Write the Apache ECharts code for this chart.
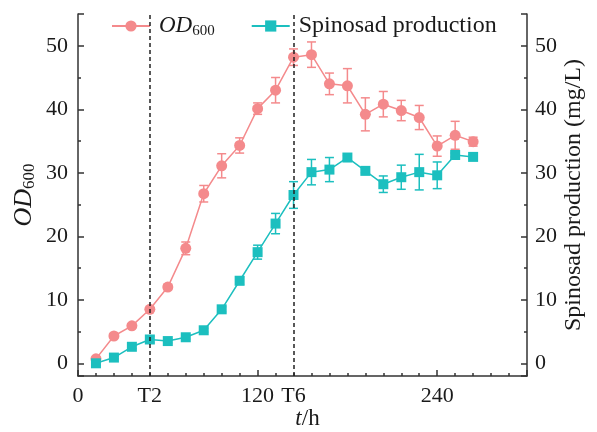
<!DOCTYPE html>
<html>
<head>
<meta charset="utf-8">
<title>OD600 and spinosad production</title>
<script src="https://cdn.jsdelivr.net/npm/echarts@6/dist/echarts.min.js"></script>
<style>
  html, body { margin: 0; padding: 0; background: #fff; }
  #chart { width: 597px; height: 432px; }
</style>
</head>
<body>
<div id="chart"></div>
<script>
// sampling times (h)
var hours = [12, 24, 36, 48, 60, 72, 84, 96, 108, 120, 132, 144, 156, 168, 180, 192, 204, 216, 228, 240, 252, 264];
// OD600 mean and error
var od600 = [0.7, 4.3, 5.9, 8.5, 12.0, 18.1, 26.7, 31.1, 34.3, 40.1, 43.0, 48.2, 48.6, 44.0, 43.7, 39.2, 40.8, 39.8, 38.7, 34.2, 35.9, 34.9];
var od600Err = [0.2, 0.3, 0.3, 0.3, 0.4, 1.0, 1.3, 1.9, 1.2, 0.9, 2.0, 1.3, 2.0, 1.7, 2.7, 2.6, 2.0, 1.6, 1.9, 1.6, 2.2, 0.7];
// spinosad production (mg/L) mean and error
var spinosad = [0.0, 0.9, 2.6, 3.75, 3.5, 4.1, 5.2, 8.5, 13.0, 17.5, 22.0, 26.5, 30.1, 30.5, 32.4, 30.3, 28.2, 29.3, 30.1, 29.6, 32.8, 32.5];
var spinosadErr = [0.3, 0.2, 0.3, 0.5, 0.3, 0.3, 0.3, 0.4, 0.6, 1.1, 1.6, 2.1, 2.0, 1.9, 0.3, 0.3, 1.3, 1.9, 2.8, 2.1, 0.3, 0.3];
// x tick labels
var xLabelValues = [0, 48, 120, 144, 240];
var xLabelText = { 0: '0', 48: 'T2', 120: '120', 144: 'T6', 240: '240' };
var markTimes = [48, 144];
var yLabelValues = [0, 10, 20, 30, 40, 50];

var RED = '#f48a8c';
var TEAL = '#1cbfbf';
var FONT = 'Liberation Serif';
var INK = '#1a1a1a';

var chart = echarts.init(document.getElementById('chart'));

function pairs(ys) {
  return hours.map(function (h, i) { return [h, ys[i]]; });
}
function errData(ys, es) {
  return hours.map(function (h, i) { return [h, ys[i] - es[i], ys[i] + es[i]]; });
}
function errRender(color) {
  return function (params, api) {
    var x = api.value(0);
    var lo = api.coord([x, api.value(1)]);
    var hi = api.coord([x, api.value(2)]);
    var w = 4.5;
    var st = { stroke: color, lineWidth: 1.5 };
    return {
      type: 'group',
      children: [
        { type: 'line', shape: { x1: lo[0], y1: lo[1], x2: hi[0], y2: hi[1] }, style: st },
        { type: 'line', shape: { x1: lo[0] - w, y1: lo[1], x2: lo[0] + w, y2: lo[1] }, style: st },
        { type: 'line', shape: { x1: hi[0] - w, y1: hi[1], x2: hi[0] + w, y2: hi[1] }, style: st }
      ]
    };
  };
}

var axisLine = { show: true, onZero: false, lineStyle: { color: '#333', width: 1.5 } };
var labelStyle = { color: INK, fontFamily: FONT, fontSize: 22 };

// major axis: auto nice interval of 10; minor axis: auto nice interval of 5
function yAxisCfg(pos, major) {
  return {
    type: 'value',
    position: pos,
    min: -2,
    max: 55,
    splitNumber: major ? 5 : 12,
    splitLine: { show: false },
    axisLine: major ? axisLine : { show: false, onZero: false },
    axisTick: {
      show: true, inside: true, length: major ? 6 : 3,
      lineStyle: { color: '#333', width: 1.5 }
    },
    axisLabel: major ? Object.assign({ customValues: yLabelValues, margin: pos === 'left' ? 10 : 8 }, labelStyle) : { show: false }
  };
}

var yLeft = yAxisCfg('left', true);
yLeft.name = '{i|OD}{s|600}';
yLeft.nameLocation = 'middle';
yLeft.nameGap = 40;
yLeft.nameRotate = 90;
yLeft.nameMoveOverlap = false;
yLeft.nameTextStyle = {
  fontFamily: FONT, color: INK,
  rich: {
    i: { fontFamily: FONT, fontStyle: 'italic', fontSize: 26, color: INK },
    s: { fontFamily: FONT, fontSize: 17, color: INK, verticalAlign: 'bottom', padding: [11, 0, 0, 0] }
  }
};
var yRight = yAxisCfg('right', true);
yRight.name = 'Spinosad production (mg/L)';
yRight.nameLocation = 'middle';
yRight.nameGap = 35;
yRight.nameRotate = 90;
yRight.nameMoveOverlap = false;
yRight.nameTextStyle = { fontFamily: FONT, fontSize: 24, color: INK };

chart.setOption({
  animation: false,
  grid: { left: 78, right: 70, top: 14, bottom: 56, outerBoundsMode: 'none' },
  legend: {
    top: 9,
    left: 106,
    itemWidth: 38,
    itemHeight: 14,
    itemGap: 36,
    data: ['OD600', 'Spinosad production'],
    formatter: function (name) {
      return name === 'OD600' ? '{i|OD}{s|600}' : '{n|' + name + '}';
    },
    textStyle: {
      color: INK, fontFamily: FONT, fontSize: 24, padding: [0, 0, 0, 4],
      rich: {
        i: { fontFamily: FONT, fontStyle: 'italic', fontSize: 23, color: INK },
        s: { fontFamily: FONT, fontSize: 15, color: INK, verticalAlign: 'bottom', padding: [10, 0, 0, 0] },
        n: { fontFamily: FONT, fontSize: 24, color: INK }
      }
    }
  },
  xAxis: [
    {
      type: 'value',
      min: 0,
      max: 300,
      interval: 12,
      position: 'bottom',
      splitLine: { show: false },
      axisLine: axisLine,
      axisTick: { show: true, inside: true, length: 3, lineStyle: { color: '#333', width: 1.5 } },
      axisLabel: Object.assign({
        customValues: xLabelValues,
        margin: 9,
        formatter: function (v) { return xLabelText[v] !== undefined ? xLabelText[v] : ''; }
      }, labelStyle),
      name: '{i|t}{n|/h}',
      nameLocation: 'middle',
      nameGap: 31,
      nameMoveOverlap: false,
      nameTextStyle: {
        padding: [0, 0, 0, 10],
        rich: {
          i: { fontFamily: FONT, fontStyle: 'italic', fontSize: 23, color: INK },
          n: { fontFamily: FONT, fontSize: 23, color: INK }
        }
      }
    },
    {
      type: 'value',
      min: 0,
      max: 300,
      interval: 120,
      position: 'bottom',
      splitLine: { show: false },
      axisLine: { show: false, onZero: false },
      axisTick: { show: true, inside: true, length: 6, lineStyle: { color: '#333', width: 1.5 } },
      axisLabel: { show: false }
    }
  ],
  yAxis: [yLeft, yRight, yAxisCfg('left', false), yAxisCfg('right', false)],
  series: [
    {
      name: 'OD600err',
      type: 'custom',
      xAxisIndex: 0,
      yAxisIndex: 0,
      data: errData(od600, od600Err),
      renderItem: errRender(RED),
      z: 2
    },
    {
      name: 'Spinerr',
      type: 'custom',
      xAxisIndex: 0,
      yAxisIndex: 1,
      data: errData(spinosad, spinosadErr),
      renderItem: errRender(TEAL),
      z: 2
    },
    {
      name: 'OD600',
      type: 'line',
      xAxisIndex: 0,
      yAxisIndex: 0,
      data: pairs(od600),
      symbol: 'circle',
      symbolSize: 11,
      itemStyle: { color: RED },
      lineStyle: { color: RED, width: 1.5 },
      z: 3,
      markLine: {
        silent: true,
        symbol: 'none',
        label: { show: false },
        lineStyle: { color: '#222', type: [4, 3], width: 1.5 },
        data: markTimes.map(function (t) { return { xAxis: t }; })
      }
    },
    {
      name: 'Spinosad production',
      type: 'line',
      xAxisIndex: 0,
      yAxisIndex: 1,
      data: pairs(spinosad),
      symbol: 'rect',
      symbolSize: 10,
      itemStyle: { color: TEAL },
      lineStyle: { color: TEAL, width: 1.5 },
      z: 3
    }
  ]
});
</script>
</body>
</html>
